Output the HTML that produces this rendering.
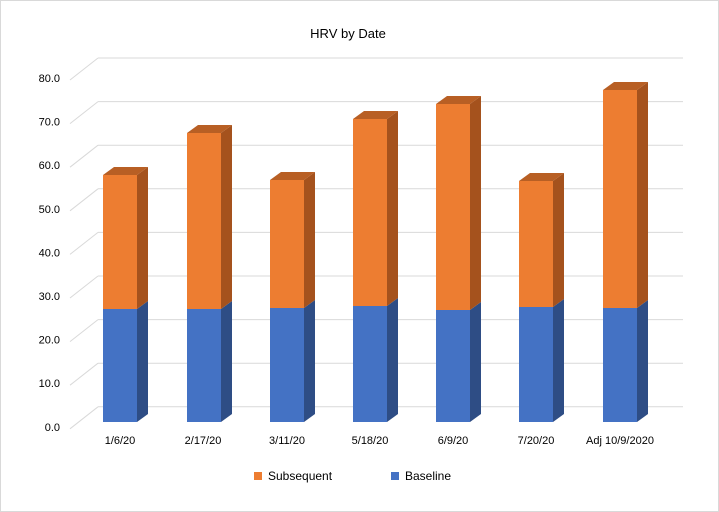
<!DOCTYPE html>
<html><head><style>
body{margin:0;background:#fff;}
svg{display:block;font-family:"Liberation Sans",sans-serif;}
</style></head><body>
<svg width="719" height="512" viewBox="0 0 719 512">
<rect x="0.5" y="0.5" width="718" height="511" fill="#fff" stroke="#d9d9d9"/>
<text x="348" y="38" font-size="13" text-anchor="middle" fill="#000">HRV by Date</text>
<g stroke="#d9d9d9" stroke-width="1" fill="none">
<path d="M98 58H683M98 101.6H683M98 145.2H683M98 188.8H683M98 232.4H683M98 276H683M98 319.6H683M98 363.2H683M98 406.8H683"/>
<path d="M70 80L98 58M70 123.6L98 101.6M70 167.2L98 145.2M70 210.8L98 188.8M70 254.4L98 232.4M70 298L98 276M70 341.6L98 319.6M70 385.2L98 363.2M70 428.8L98 406.8"/>
</g>
<g font-size="11" fill="#000" text-anchor="end">
<text x="60" y="82">80.0</text><text x="60" y="125.6">70.0</text><text x="60" y="169.2">60.0</text><text x="60" y="212.8">50.0</text><text x="60" y="256.4">40.0</text><text x="60" y="300">30.0</text><text x="60" y="343.6">20.0</text><text x="60" y="387.2">10.0</text><text x="60" y="431">0.0</text>
</g>
<g>
<polygon points="137,422 148,414 148,301 137,309" fill="#2e4d85"/>
<polygon points="137,309 148,301 148,167 137,175" fill="#a5521d"/>
<polygon points="103,175 114,167 148,167 137,175" fill="#b85f24"/>
<rect x="103" y="309" width="34" height="113" fill="#4472c4"/>
<rect x="103" y="175" width="34" height="134" fill="#ed7d31"/>

<polygon points="221,422 232,414 232,301 221,309" fill="#2e4d85"/>
<polygon points="221,309 232,301 232,125 221,133" fill="#a5521d"/>
<polygon points="187,133 198,125 232,125 221,133" fill="#b85f24"/>
<rect x="187" y="309" width="34" height="113" fill="#4472c4"/>
<rect x="187" y="133" width="34" height="176" fill="#ed7d31"/>

<polygon points="304,422 315,414 315,300 304,308" fill="#2e4d85"/>
<polygon points="304,308 315,300 315,172 304,180" fill="#a5521d"/>
<polygon points="270,180 281,172 315,172 304,180" fill="#b85f24"/>
<rect x="270" y="308" width="34" height="114" fill="#4472c4"/>
<rect x="270" y="180" width="34" height="128" fill="#ed7d31"/>

<polygon points="387,422 398,414 398,298 387,306" fill="#2e4d85"/>
<polygon points="387,306 398,298 398,111 387,119" fill="#a5521d"/>
<polygon points="353,119 364,111 398,111 387,119" fill="#b85f24"/>
<rect x="353" y="306" width="34" height="116" fill="#4472c4"/>
<rect x="353" y="119" width="34" height="187" fill="#ed7d31"/>

<polygon points="470,422 481,414 481,302 470,310" fill="#2e4d85"/>
<polygon points="470,310 481,302 481,96 470,104" fill="#a5521d"/>
<polygon points="436,104 447,96 481,96 470,104" fill="#b85f24"/>
<rect x="436" y="310" width="34" height="112" fill="#4472c4"/>
<rect x="436" y="104" width="34" height="206" fill="#ed7d31"/>

<polygon points="553,422 564,414 564,299 553,307" fill="#2e4d85"/>
<polygon points="553,307 564,299 564,173 553,181" fill="#a5521d"/>
<polygon points="519,181 530,173 564,173 553,181" fill="#b85f24"/>
<rect x="519" y="307" width="34" height="115" fill="#4472c4"/>
<rect x="519" y="181" width="34" height="126" fill="#ed7d31"/>

<polygon points="637,422 648,414 648,300 637,308" fill="#2e4d85"/>
<polygon points="637,308 648,300 648,82 637,90" fill="#a5521d"/>
<polygon points="603,90 614,82 648,82 637,90" fill="#b85f24"/>
<rect x="603" y="308" width="34" height="114" fill="#4472c4"/>
<rect x="603" y="90" width="34" height="218" fill="#ed7d31"/>
</g>
<g font-size="11" fill="#000" text-anchor="middle">
<text x="120" y="444">1/6/20</text><text x="203" y="444">2/17/20</text><text x="287" y="444">3/11/20</text><text x="370" y="444">5/18/20</text><text x="453" y="444">6/9/20</text><text x="536" y="444">7/20/20</text><text x="620" y="444">Adj 10/9/2020</text>
</g>
<rect x="254" y="472" width="8" height="8" fill="#ed7d31"/>
<text x="268" y="480" font-size="12">Subsequent</text>
<rect x="391" y="472" width="8" height="8" fill="#4472c4"/>
<text x="405" y="480" font-size="12">Baseline</text>
</svg>
</body></html>
